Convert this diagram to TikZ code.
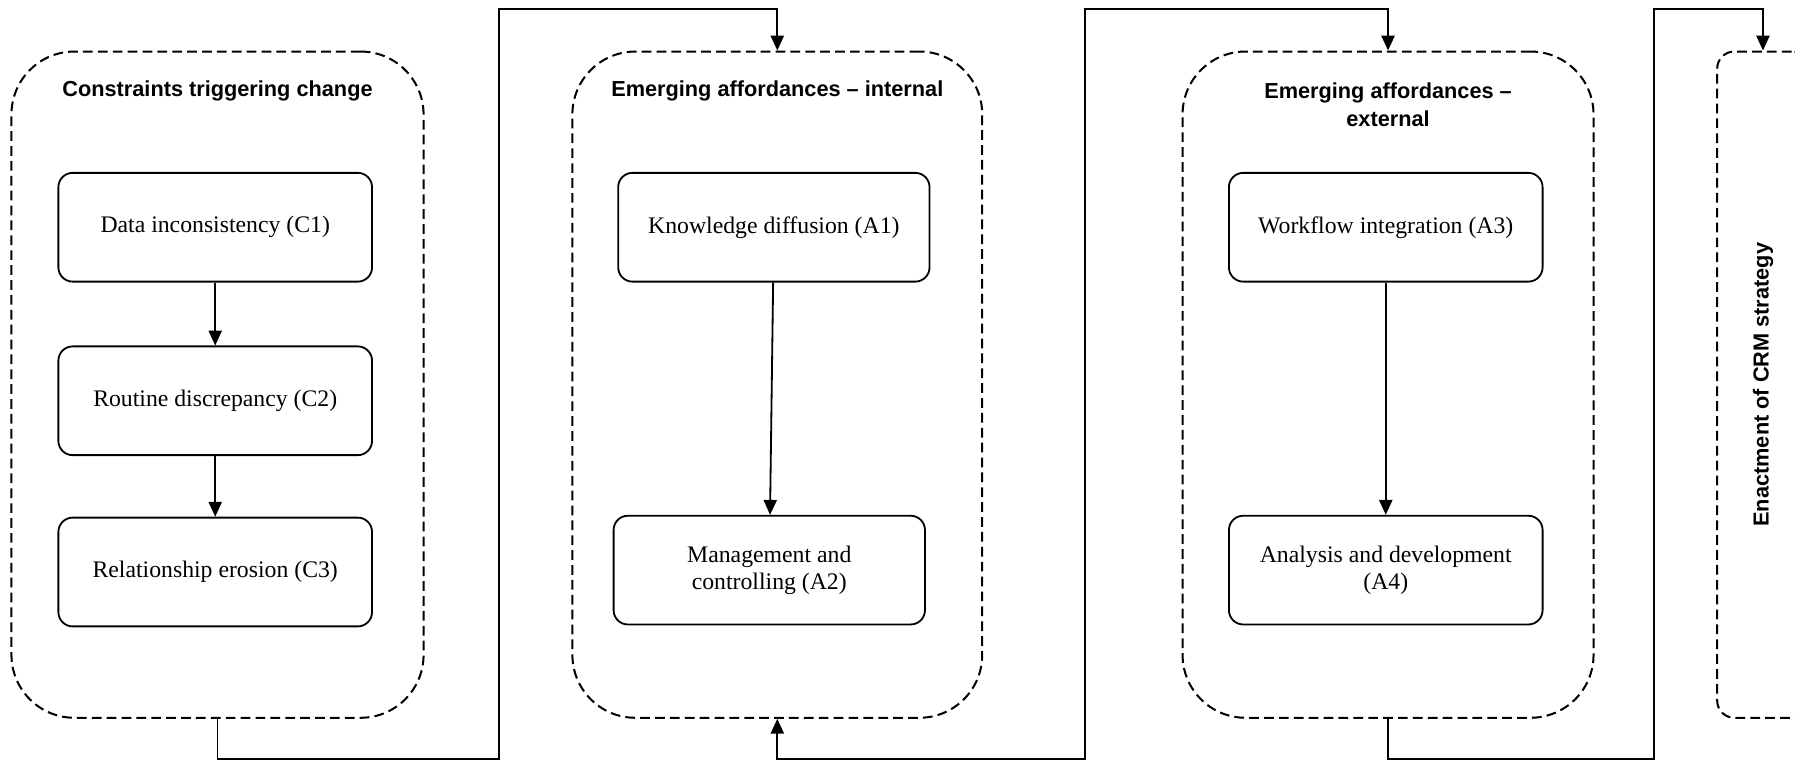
\documentclass[tikz,border=0pt]{standalone}
\usepackage{fontspec}
\setmainfont{Liberation Serif}
\setsansfont{Liberation Sans}
\usetikzlibrary{arrows.meta,positioning}

\begin{document}
\begin{tikzpicture}[font=\fontsize{11.8}{13.7}\selectfont,
>={Triangle[length=2.6mm,width=2.3mm]}, line width=0.9pt,
group/.style={draw, dash pattern=on 1.7mm off 0.9mm, line width=1pt, rounded corners=1.1cm, minimum height=11.64cm},
box/.style={draw, rounded corners=0.25cm, minimum width=5.48cm, minimum height=1.9cm, align=center},
title/.style={font=\sffamily\bfseries\fontsize{10.8}{14.2}\selectfont, align=center}]

\useasboundingbox (0,0) rectangle (31.36,-13.3);
\clip (0,0) rectangle (31.36,-13.3);

% rails for the connectors
\coordinate (low) at (0,-13.26);
\coordinate (high) at (0,-0.16);
\coordinate (col1) at (8.72,0);
\coordinate (col2) at (18.96,0);
\coordinate (col3) at (28.9,0);

% phases
\node[group, minimum width=7.2cm] (g1) at (3.8,-6.72) {};
\node[group, minimum width=7.16cm] (g2) at (13.58,-6.72) {};
\node[group, minimum width=7.18cm] (g3) at (24.25,-6.72) {};
\node[group, minimum width=1.6cm, rounded corners=0.3cm] (g4) at (30.8,-6.72) {};

\node[title] (t1) at ([yshift=-0.7cm]g1.north) {Constraints triggering change};
\node[title] (t2) at ([yshift=-0.7cm]g2.north) {Emerging affordances -- internal};
\node[title] (t3) at ([yshift=-0.95cm]g3.north) {Emerging affordances --\\ external};
\node[title, rotate=90] (t4) at (g4.center) {Enactment of CRM strategy};

% constraints
\node[box] (c1) at (3.76,-3.97) {Data inconsistency (C1)};
\node[box, below=1.1cm of c1] (c2) {Routine discrepancy (C2)};
\node[box, below=1.06cm of c2] (c3) {Relationship erosion (C3)};

% affordances
\node[box, minimum width=5.44cm] (a1) at (13.52,-3.97) {Knowledge diffusion (A1)};
\node[box, minimum width=5.44cm] (a2) at (13.44,-9.96) {Management and\\ controlling (A2)};
\node[box] (a3) at (24.21,-3.97) {Workflow integration (A3)};
\node[box] (a4) at (24.21,-9.96) {Analysis and development\\ (A4)};

\draw[->] (c1) -- (c2);
\draw[->] (c2) -- (c3);
\draw[->] (a1) -- (a2);
\draw[->] (a3) -- (a4);

\draw[->] (g1.south) -- (g1.south |- low) -| (col1 |- high) -| (g2.north);
\draw[<->] (g2.south) -- (g2.south |- low) -| (col2 |- high) -| (g3.north);
\draw[->] (g3.south) -- (g3.south |- low) -| (col3 |- high) -| (g4.north);
%
\end{tikzpicture}
\end{document}
